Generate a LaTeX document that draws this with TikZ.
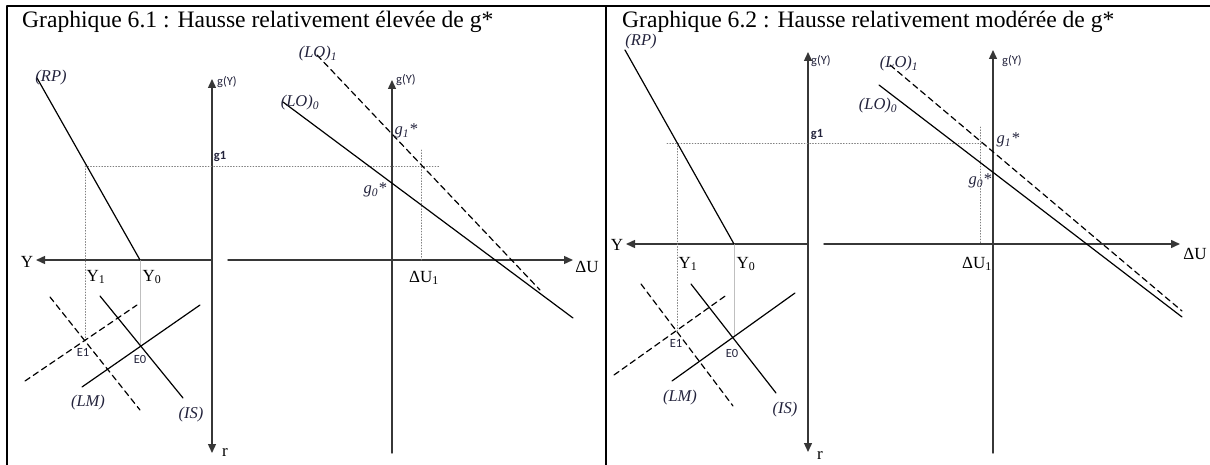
\documentclass[tikz,border=0pt]{standalone}
\usepackage{fontspec}
\setmainfont{Liberation Serif}
\newfontfamily\calfont{Carlito}
\usepackage{tikz}
\usepackage{tkz-euclide}
\usetikzlibrary{arrows.meta}
\definecolor{ink}{RGB}{35,35,60}
\definecolor{axisgray}{RGB}{55,55,55}

\begin{document}
\begin{tikzpicture}[x=1pt,y=-1pt,
  axisline/.style={line width=1.4pt,color=axisgray},
  axisarrow/.style={-{Triangle[length=9pt,width=8pt]}},
  curve/.style={line width=1.2pt,color=black},
  shifted/.style={line width=1.2pt,color=black,dash pattern=on 6pt off 4pt},
  guide/.style={line width=0.8pt,color=gray,dotted},
  lightguide/.style={line width=0.8pt,color=black!25},
  lbl/.style={text=ink,inner sep=0pt,font=\fontsize{16.5}{16.5}\selectfont\itshape},
  small/.style={text=ink,inner sep=0pt,font=\calfont\fontsize{12.5}{12.5}\selectfont},
  big/.style={inner sep=0pt,font=\fontsize{17}{17}\selectfont}]
  \useasboundingbox (0,0) rectangle (1210,465);
  \tkzDefPoints{7/465/FA,7/6/FB,1210/6/FC,606/6/FD,606/465/FE}
  \tkzDrawSegments[line width=1.5pt](FA,FB FB,FC FD,FE)
  \node[anchor=base west,inner sep=0pt,font=\fontsize{23.6}{23.6}\selectfont] (titleA) at (22,28) {Graphique 6.1 : Hausse relativement élevée de g*};
  \node[anchor=base west,inner sep=0pt,font=\fontsize{23.6}{23.6}\selectfont] (titleB) at (622,28) {Graphique 6.2 : Hausse relativement modérée de g*};
  % Graphique 6.1
  \tkzDefPoints{212/260/Oa,212/79/Ga,212/453/Ra,36/260/Ya,228/260/Ua,573/260/UUa,392/453/Pa,392/80/Qa}
  \tkzDrawSegment[axisline,axisarrow](Oa,Ga)
  \tkzDrawSegment[axisline,axisarrow](Oa,Ra)
  \tkzDrawSegment[axisline,axisarrow](Oa,Ya)
  \tkzDrawSegment[axisline,axisarrow](Ua,UUa)
  \tkzDrawSegment[axisline,axisarrow](Pa,Qa)
  \tkzDefPoints{37/78/RPa,140/260/YZa,85/166/YOa,440/166/GEa,85/340/EOa,140/345/EZa,421/150/DTa,421/260/DBa}
  \tkzDrawSegment[guide](YOa,GEa)
  \tkzDrawSegment[guide](YOa,EOa)
  \tkzDrawSegment[guide](DTa,DBa)
  \tkzDrawSegment[lightguide](YZa,EZa)
  \tkzDrawSegment[curve](RPa,YZa)
  \tkzDefPoints{25/381/LMa,137/305/LNa,82/387/LPa,200/305/LQa,100/296/ISa,183/398/ITa,50/297/IUa,140/410/IVa}
  \tkzDrawSegment[shifted](LMa,LNa)
  \tkzDrawSegment[curve](LPa,LQa)
  \tkzDrawSegment[curve](ISa,ITa)
  \tkzDrawSegment[shifted](IUa,IVa)
  \tkzDefPoints{283/102/LOa,573/318/LZa,317/55/KOa,540/290/KZa}
  \tkzDrawSegment[curve](LOa,LZa)
  \tkzDrawSegment[shifted](KOa,KZa)
  \node[small] (gya) at (227,82) {g(Y)};
  \node[small] (gyb) at (406,80) {g(Y)};
  \node[small,font=\calfont\bfseries\fontsize{12.5}{12.5}\selectfont] (gunA) at (220,157) {g1};
  \node[big] (ya) at (27,262) {Y};
  \node[big] (yunA) at (96,277) {Y\textsubscript{1}};
  \node[big] (yzeA) at (152,277) {Y\textsubscript{0}};
  \node[big] (ra) at (225,452) {r};
  \node[big] (dua) at (587,267) {ΔU};
  \node[big] (duunA) at (424,278) {ΔU\textsubscript{1}};
  \node[small] (eunA) at (83,352) {E1};
  \node[small] (ezeA) at (140,359) {E0};
  \node[lbl] (lma) at (88,403) {(LM)};
  \node[lbl] (isa) at (191,415) {(IS)};
  \node[lbl] (rpa) at (51,78) {(RP)};
  \node[lbl] (loua) at (318,54) {(LO)\textsubscript{1}};
  \node[lbl] (loza) at (300,103) {(LO)\textsubscript{0}};
  \node[lbl] (gsua) at (406,131) {g\textsubscript{1}*};
  \node[lbl] (gsza) at (375,190) {g\textsubscript{0}*};
  % Graphique 6.2
  \tkzDefPoints{808/244/Ob,808/52/Gb,808/452/Rb,626/244/Yb,824/244/Ub,1180/244/UUb,993/453/Pb,993/50/Qb}
  \tkzDrawSegment[axisline,axisarrow](Ob,Gb)
  \tkzDrawSegment[axisline,axisarrow](Ob,Rb)
  \tkzDrawSegment[axisline,axisarrow](Ob,Yb)
  \tkzDrawSegment[axisline,axisarrow](Ub,UUb)
  \tkzDrawSegment[axisline,axisarrow](Pb,Qb)
  \tkzDefPoints{625/50/RPb,734/244/YZb,667/143/GSb,984/143/GEb,677/143/YOb,677/331/EOb,734/337/EZb,980/127/DTb,980/244/DBb}
  \tkzDrawSegment[guide](GSb,GEb)
  \tkzDrawSegment[guide](YOb,EOb)
  \tkzDrawSegment[guide](DTb,DBb)
  \tkzDrawSegment[lightguide](YZb,EZb)
  \tkzDrawSegment[curve](RPb,YZb)
  \tkzDefPoints{614/375/LMb,728/294/LNb,672/381/LPb,795/293/LQb,691/284/ISb,776/393/ITb,641/284/IUb,733/406/IVb}
  \tkzDrawSegment[shifted](LMb,LNb)
  \tkzDrawSegment[curve](LPb,LQb)
  \tkzDrawSegment[curve](ISb,ITb)
  \tkzDrawSegment[shifted](IUb,IVb)
  \tkzDefPoints{879/85/LOb,1182/317/LZb,890/65/KOb,1182/311/KZb}
  \tkzDrawSegment[curve](LOb,LZb)
  \tkzDrawSegment[shifted](KOb,KZb)
  \node[small] (gyc) at (821,61) {g(Y)};
  \node[small] (gyd) at (1012,61) {g(Y)};
  \node[small,font=\calfont\bfseries\fontsize{12.5}{12.5}\selectfont] (gunB) at (817,135) {g1};
  \node[big] (yb) at (617,245) {Y};
  \node[big] (yunB) at (688,264) {Y\textsubscript{1}};
  \node[big] (yzeB) at (746,264) {Y\textsubscript{0}};
  \node[big] (rb) at (820,455) {r};
  \node[big] (dub) at (1195,254) {ΔU};
  \node[big] (duunB) at (977,264) {ΔU\textsubscript{1}};
  \node[small] (eunB) at (676,343) {E1};
  \node[small] (ezeB) at (732,353) {E0};
  \node[lbl] (lmb) at (680,398) {(LM)};
  \node[lbl] (isb) at (785,410) {(IS)};
  \node[lbl] (rpb) at (641,42) {(RP)};
  \node[lbl] (loub) at (899,64) {(LO)\textsubscript{1}};
  \node[lbl] (lozb) at (878,106) {(LO)\textsubscript{0}};
  \node[lbl] (gsub) at (1008,140) {g\textsubscript{1}*};
  \node[lbl] (gszb) at (980,181) {g\textsubscript{0}*};
\end{tikzpicture}
\end{document}
